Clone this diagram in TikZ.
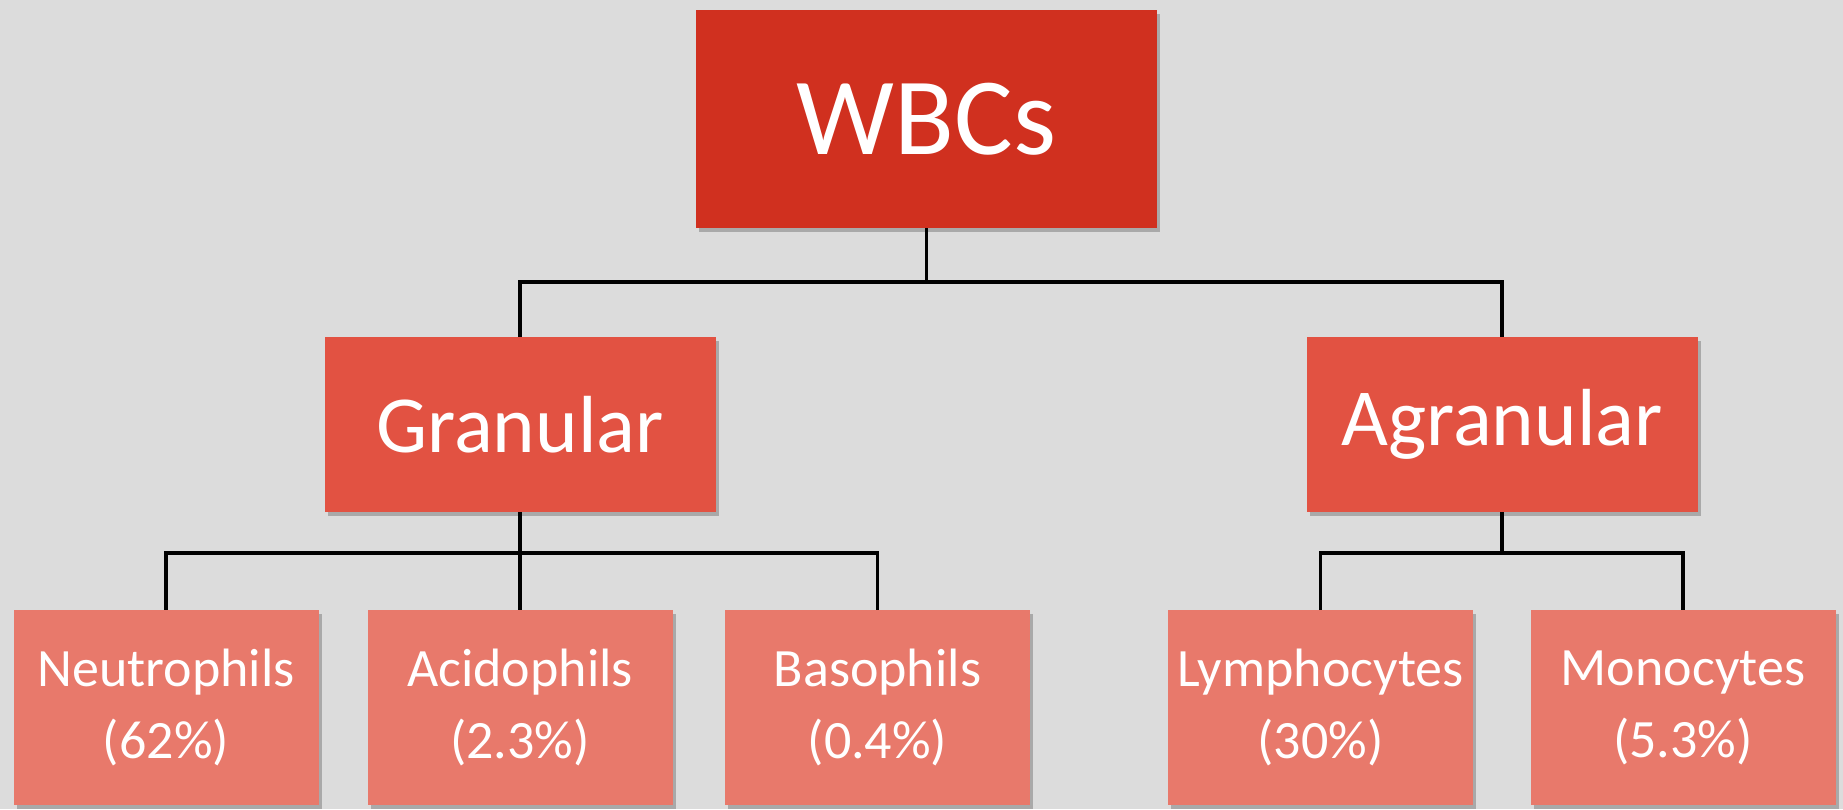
\documentclass[tikz,border=0pt]{standalone}
\usepackage{fontspec}
\setmainfont{Carlito}
\usetikzlibrary{shadows}
\definecolor{bgc}{HTML}{DCDCDC}
\definecolor{topc}{HTML}{D0301F}
\definecolor{midc}{HTML}{E25242}
\definecolor{leafc}{HTML}{E8796B}
\tikzset{
  box/.style={inner sep=0pt, text=white, align=center,
    drop shadow={shadow xshift=3pt, shadow yshift=-4pt, opacity=0.35, fill=black!70}},
  topbox/.style={box, fill=topc, minimum width=461pt, minimum height=218pt,
    font=\fontsize{110}{130}\selectfont},
  midbox/.style={box, fill=midc, minimum width=391pt, minimum height=175pt,
    font=\fontsize{81}{95}\selectfont},
  leafbox/.style={box, fill=leafc, minimum width=305pt, minimum height=195pt,
    font=\fontsize{54}{72}\selectfont},
  conn/.style={draw=black, line width=3.2pt}
}
\begin{document}
\begin{tikzpicture}[x=1pt, y=-1pt]
\path[use as bounding box, fill=bgc] (0,0) rectangle (1843,809);
\node[topbox] (wbc) at (926.5,119) {WBCs};
\node[midbox] (gran) at (520,424.5) {Granular};
\node[midbox] (agran) at (1502,424.5) {Agranular};
\node[leafbox] (neu) at (166,707.5) {Neutrophils\\(62\%)};
\node[leafbox] (aci) at (520,707.5) {Acidophils\\(2.3\%)};
\node[leafbox] (bas) at (877.5,707.5) {Basophils\\(0.4\%)};
\node[leafbox] (lym) at (1320.5,707.5) {Lymphocytes\\(30\%)};
\node[leafbox] (mon) at (1683,707.5) {Monocytes\\(5.3\%)};
\coordinate (b1) at (926.5,282);
\coordinate (b2) at (520,553);
\coordinate (b3) at (1502,553);
\draw[conn] (wbc.south) -- (b1);
\draw[conn] (b1) -| (gran.north);
\draw[conn] (b1) -| (agran.north);
\draw[conn] (gran.south) -- (b2);
\draw[conn] (b2) -| (neu.north);
\draw[conn] (b2) -| (aci.north);
\draw[conn] (b2) -| (bas.north);
\draw[conn] (agran.south) -- (b3);
\draw[conn] (b3) -| (lym.north);
\draw[conn] (b3) -| (mon.north);
\end{tikzpicture}
\end{document}
